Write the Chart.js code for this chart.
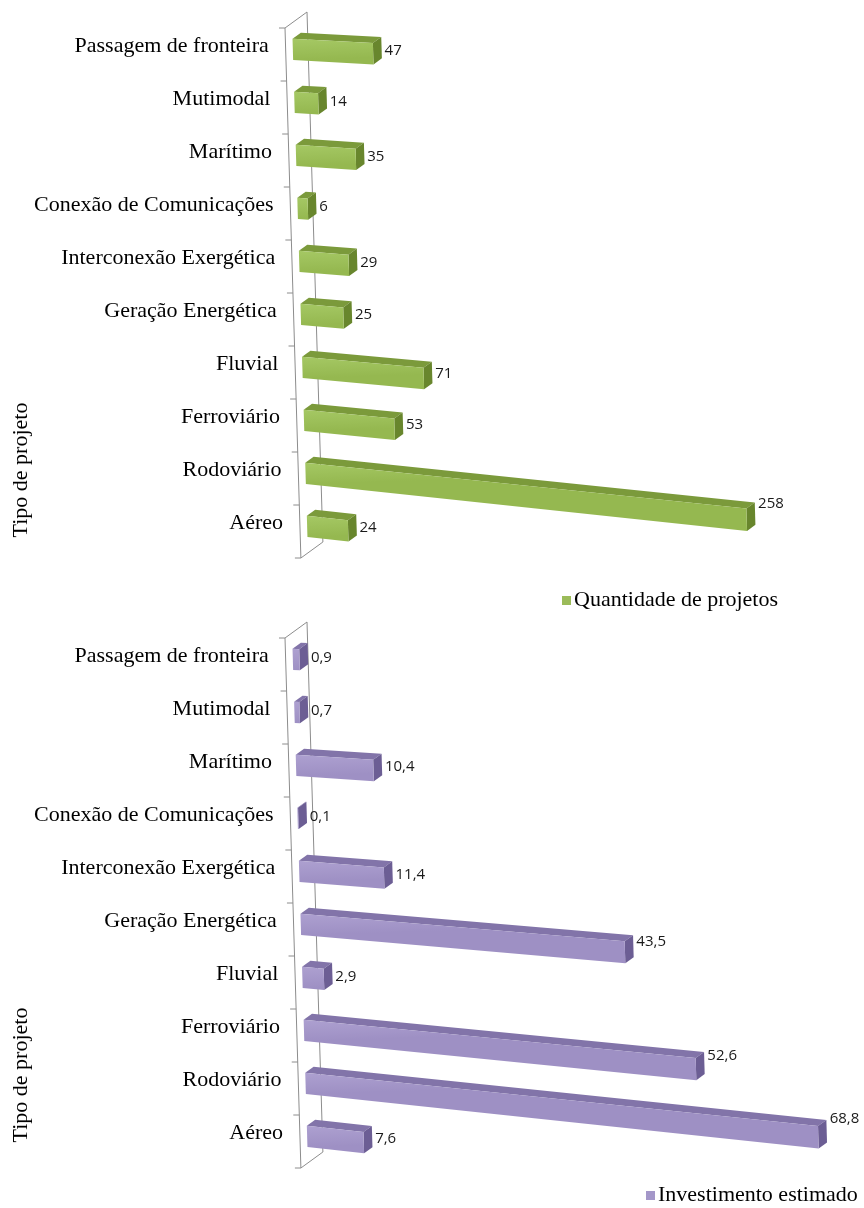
<!DOCTYPE html>
<html>
<head>
<meta charset="utf-8">
<script src="https://cdn.jsdelivr.net/npm/chart.js@4.4.0/dist/chart.umd.min.js"></script>
<style>
    html, body { margin: 0; padding: 0; background: #fff; }
    #page { position: relative; width: 864px; height: 1208px; overflow: hidden; font-family: "Liberation Serif", "Times New Roman", serif; color: #000; }
    .box { position: absolute; left: 0; width: 864px; height: 604px; }
    .ytitle { position: absolute; width: 200px; height: 24px; line-height: 24px; font-size: 22px; text-align: center; white-space: nowrap; transform: rotate(-90deg); }
    .legend { position: absolute; font-size: 22px; line-height: 24px; white-space: nowrap; }
    .legend .sw { display: inline-block; width: 9px; height: 9px; margin-right: 3px; vertical-align: 1px; }
</style>
</head>
<body>
<div id="page">
    <div class="box" style="top:0"><canvas id="chartTop" width="864" height="604"></canvas></div>
    <div class="box" style="top:604px"><canvas id="chartBottom" width="864" height="604"></canvas></div>
    <div class="ytitle" style="left:-80px; top:458px">Tipo de projeto</div>
    <div class="ytitle" style="left:-80px; top:1063px">Tipo de projeto</div>
    <div class="legend" style="left:562px; top:587px"><span class="sw" style="background:#9bbb59"></span>Quantidade de projetos</div>
    <div class="legend" style="left:646px; top:1182px"><span class="sw" style="background:#a497c9"></span>Investimento estimado</div>
</div>
<script>
// categories and values, top to bottom as in the picture
const categories = ['Passagem de fronteira', 'Mutimodal', 'Marítimo', 'Conexão de Comunicações',
    'Interconexão Exergética', 'Geração Energética', 'Fluvial', 'Ferroviário', 'Rodoviário', 'Aéreo'];
const projectCounts = [47, 14, 35, 6, 29, 25, 71, 53, 258, 24];
const investment = [0.9, 0.7, 10.4, 0.1, 11.4, 43.5, 2.9, 52.6, 68.8, 7.6];

const fmt = v => String(v).replace('.', ',');

// fake 3D: shear + perspective slope, wall and bar depth
const bar3d = {
    id: 'bar3d',
    beforeDatasetsDraw(chart, args, opts) {
        const ctx = chart.ctx;
        const area = chart.chartArea;
        const left = area.left, top = area.top, bottom = area.bottom;
        const c = 0.03, s0 = 0.051, g = 0.00012;
        const D = { x: 22, y: -16 };
        const proj = (x, y, z) => {
            const s = s0 + g * (y - top);
            return [x + c * (y - top) + z * D.x, y + s * (x - left) + z * D.y];
        };
        const poly = (pts, fill) => {
            ctx.beginPath();
            ctx.moveTo(pts[0][0], pts[0][1]);
            pts.slice(1).forEach(p => ctx.lineTo(p[0], p[1]));
            ctx.closePath();
            ctx.fillStyle = fill;
            ctx.fill();
        };
        const line = (a, b) => {
            ctx.beginPath();
            ctx.moveTo(a[0], a[1]);
            ctx.lineTo(b[0], b[1]);
            ctx.stroke();
        };

        ctx.save();
        // wall
        ctx.strokeStyle = '#8c8c8c';
        ctx.lineWidth = 1;
        line(proj(left, top, -0.5), proj(left, bottom, -0.5));
        line(proj(left, top, 0.5), proj(left, bottom, 0.5));
        line(proj(left, top, -0.5), proj(left, top, 0.5));
        line(proj(left, bottom, -0.5), proj(left, bottom, 0.5));
        const n = chart.data.labels.length;
        for (let i = 0; i <= n; i++) {
            const y = top + i * (bottom - top) / n;
            const p = proj(left, y, -0.5);
            line([p[0] - 6, p[1]], p);
        }

        // category labels
        const yScale = chart.scales.y;
        ctx.fillStyle = '#000';
        ctx.font = '22px "Liberation Serif", "Times New Roman", serif';
        ctx.textAlign = 'right';
        ctx.textBaseline = 'middle';
        chart.data.labels.forEach((lab, i) => {
            const y = yScale.getPixelForValue(i);
            const p = proj(left, y, -0.5);
            ctx.fillText(lab, p[0] - 17, y);
        });

        // bars
        const z1 = -0.18, z2 = 0.2;
        const meta = chart.getDatasetMeta(0);
        const data = chart.data.datasets[0].data;
        meta.data.forEach((el, i) => {
            const x0 = el.base, x1 = el.x;
            const yT = el.y - el.height / 2, yB = el.y + el.height / 2;
            poly([proj(x0, yT, z1), proj(x1, yT, z1), proj(x1, yT, z2), proj(x0, yT, z2)], opts.top);
            poly([proj(x1, yT, z1), proj(x1, yB, z1), proj(x1, yB, z2), proj(x1, yT, z2)], opts.side);
            const a = proj(x0, yT, z1), b = proj(x0, yB, z1);
            const grad = ctx.createLinearGradient(a[0], a[1], b[0], b[1]);
            grad.addColorStop(0, opts.frontLight);
            grad.addColorStop(1, opts.front);
            poly([proj(x0, yT, z1), proj(x1, yT, z1), proj(x1, yB, z1), proj(x0, yB, z1)], grad);

            // value label
            const s = s0 + g * (el.y - top);
            const pe = proj(x1, el.y, z2);
            ctx.fillStyle = '#1a1a1a';
            ctx.font = '15px "Open Sans", "DejaVu Sans", sans-serif';
            ctx.textAlign = 'left';
            ctx.textBaseline = 'middle';
            ctx.fillText(fmt(data[i]), pe[0] + 3, el.y + 0.7 * s * (x1 - left) + 1);
        });
        ctx.restore();
        return false;
    }
};

const makeChart = (canvasId, values, name, xMax, pad, colors) => {
    const ctx = document.getElementById(canvasId).getContext('2d');
    return new Chart(ctx, {
        type: 'bar',
        data: {
            labels: categories,
            datasets: [{
                label: name,
                data: values,
                backgroundColor: colors.front,
                barPercentage: 0.4,
                categoryPercentage: 1
            }]
        },
        options: {
            indexAxis: 'y',
            responsive: false,
            animation: false,
            layout: { padding: pad },
            scales: {
                x: { display: false, min: 0, max: xMax },
                y: { display: false }
            },
            plugins: {
                legend: { display: false },
                tooltip: { enabled: false },
                bar3d: colors
            }
        },
        plugins: [bar3d]
    });
};

makeChart('chartTop', projectCounts, 'Quantidade de projetos', 300,
    { left: 296, top: 20, right: 55, bottom: 54 },
    { front: '#95b850', frontLight: '#a5c864', top: '#7b9a3b', side: '#68862d' });

makeChart('chartBottom', investment, 'Investimento estimado', 75,
    { left: 296, top: 26, right: 9, bottom: 48 },
    { front: '#9e90c4', frontLight: '#ada0d0', top: '#8274a9', side: '#6c5e94' });
</script>
</body>
</html>
